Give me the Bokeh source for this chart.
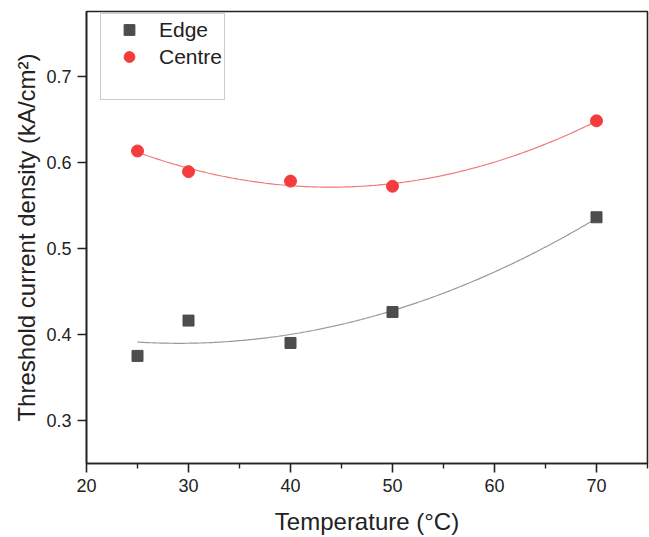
import numpy as np
from bokeh.plotting import figure
from bokeh.models import Legend, LegendItem, FixedTicker, Range1d
from bokeh.embed import file_html
from bokeh.resources import INLINE

temperature = [25, 30, 40, 50, 70]
edge = [0.375, 0.416, 0.390, 0.426, 0.536]
centre = [0.613, 0.589, 0.578, 0.572, 0.648]
x_ticks = [20, 30, 40, 50, 60, 70]
y_ticks = [0.3, 0.4, 0.5, 0.6, 0.7]

FONT = "Liberation Sans"

p = figure(width=649, height=537, output_backend="svg", toolbar_location=None,
           x_range=Range1d(20, 75), y_range=Range1d(0.25, 0.775),
           min_border_left=86, min_border_right=2, min_border_top=11, min_border_bottom=74)
p.background_fill_color = "white"
p.border_fill_color = "white"
p.grid.visible = False
p.outline_line_color = "#222222"
p.outline_line_width = 1.6

# quadratic fit curves through the measured points
xs = np.linspace(temperature[0], temperature[-1], 200)
edge_fit = np.polyval(np.polyfit(temperature, edge, 2), xs)
centre_fit = np.polyval(np.polyfit(temperature, centre, 2), xs)
p.line(xs, edge_fit, line_color="#9a9a9a", line_width=1.2)
p.line(xs, centre_fit, line_color="#f07878", line_width=1.2)

r_edge = p.scatter(temperature, edge, marker="square", size=11,
                   fill_color="#4d4d4d", line_color="#4d4d4d")
r_centre = p.scatter(temperature, centre, marker="circle", size=12,
                     fill_color="#f43c3c", line_color="#f43c3c")
r_blank = p.scatter([], [], marker="circle", size=1, fill_alpha=0, line_alpha=0)

for ax in (p.xaxis[0], p.yaxis[0]):
    ax.axis_line_color = "#222222"
    ax.axis_line_width = 1.6
    ax.major_tick_line_color = "#222222"
    ax.major_tick_line_width = 1.6
    ax.minor_tick_line_color = "#222222"
    ax.minor_tick_line_width = 1.4
    ax.major_tick_in = 0
    ax.major_tick_out = 9
    ax.minor_tick_in = 0
    ax.minor_tick_out = 5
    ax.major_label_text_font = FONT
    ax.major_label_text_font_size = "18px"
    ax.major_label_text_color = "#222222"
    ax.axis_label_text_font = FONT
    ax.axis_label_text_font_style = "normal"
    ax.axis_label_text_color = "#222222"

p.xaxis.axis_label_text_font_size = "24px"
p.yaxis.axis_label_text_font_size = "24px"
p.xaxis.ticker = FixedTicker(ticks=x_ticks, minor_ticks=[25, 35, 45, 55, 65, 75])
p.yaxis.ticker = FixedTicker(ticks=y_ticks, minor_ticks=[])
p.xaxis.axis_label = "Temperature (°C)"
p.yaxis.axis_label = "Threshold current density (kA/cm²)"
p.xaxis.major_label_standoff = 6
p.xaxis.axis_label_standoff = 13
p.yaxis.major_label_standoff = 6
p.yaxis.axis_label_standoff = 3

legend = Legend(items=[
    LegendItem(label="Edge", renderers=[r_edge]),
    LegendItem(label="Centre", renderers=[r_centre]),
    LegendItem(label=" ", renderers=[r_blank]),
], location=(14, 363))
legend.label_text_font = FONT
legend.label_text_font_size = "21px"
legend.label_text_color = "#222222"
legend.label_height = 27
legend.glyph_height = 27
legend.glyph_width = 52
legend.label_standoff = 4
legend.spacing = 0
legend.padding = 2
legend.margin = 0
legend.border_line_color = "#999999"
legend.border_line_width = 1.2
legend.background_fill_color = "white"
p.add_layout(legend, "center")

open("out.html", "w").write(file_html(p, INLINE))
